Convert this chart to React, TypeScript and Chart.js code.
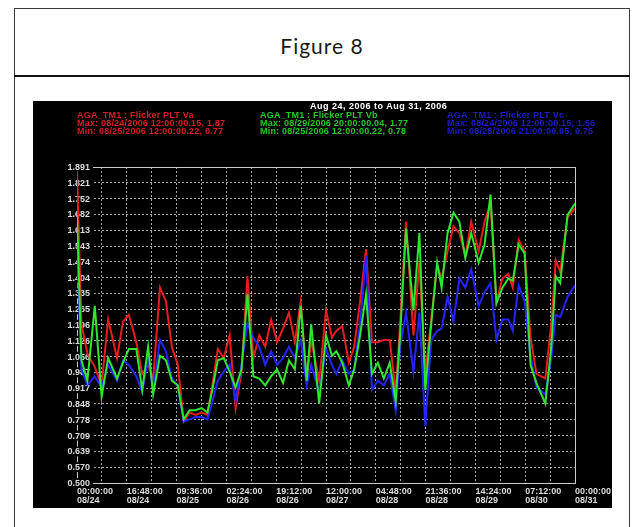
import React, { useEffect, useRef } from 'react';
import { Chart, registerables } from 'chart.js';

Chart.register(...registerables);

// hours since 08/24 00:00
const hours = [0, 1.5, 3.5, 6, 8.3, 10.5, 13.5, 15.5, 17.5, 20, 22, 24, 25.7, 28, 30, 32, 34, 36, 38, 40, 42, 44, 45.5, 47.5, 49.5, 51.5, 53.5, 55.5, 57.5, 59.5, 61.5, 63.5, 65.5, 67.5, 69.5, 71.5, 73.5, 75.5, 77.5, 79, 81.7, 84, 86, 87.5, 89.5, 91.7, 93.5, 95.5, 97.5, 99.5, 101.5, 103.5, 105.5, 107.5, 109, 111, 113.5, 115.5, 117.5, 119.5, 121.5, 123, 125, 127, 129, 131, 133, 135.5, 137.5, 139.5, 141.5, 143.5, 145.5, 147, 149, 151, 153, 155, 158, 160, 161.5, 163, 165.5, 168];

const pltVa = [1.87, 1.20, 1.07, 1.01, 0.93, 1.22, 1.05, 1.21, 1.24, 1.12, 0.98, 1.02, 0.96, 1.36, 1.30, 1.10, 1.02, 0.77, 0.81, 0.80, 0.81, 0.80, 0.92, 1.09, 1.05, 1.15, 0.83, 0.99, 1.41, 1.05, 1.15, 1.10, 1.22, 1.12, 1.18, 1.25, 1.12, 1.30, 0.95, 1.13, 0.95, 1.26, 1.14, 1.17, 1.19, 1.03, 1.10, 1.30, 1.53, 1.12, 1.12, 1.13, 1.13, 0.90, 1.20, 1.65, 1.15, 1.47, 0.98, 1.22, 1.46, 1.40, 1.52, 1.63, 1.60, 1.50, 1.65, 1.52, 1.65, 1.73, 1.30, 1.40, 1.42, 1.36, 1.57, 1.52, 1.14, 0.98, 0.96, 1.20, 1.48, 1.43, 1.67, 1.71];

const pltVb = [1.68, 1.04, 0.95, 1.28, 0.88, 1.05, 0.96, 1.03, 1.09, 1.09, 0.91, 1.10, 0.89, 1.06, 1.04, 0.95, 0.93, 0.78, 0.82, 0.82, 0.83, 0.81, 0.90, 1.04, 1.05, 0.99, 0.92, 1.00, 1.33, 0.97, 0.96, 0.93, 0.97, 1.00, 0.94, 1.04, 1.00, 1.28, 0.95, 1.20, 0.85, 1.15, 1.06, 1.08, 1.03, 0.93, 1.00, 1.15, 1.33, 0.98, 1.03, 0.96, 1.03, 0.86, 1.15, 1.62, 1.26, 1.60, 0.91, 1.20, 1.47, 1.36, 1.60, 1.69, 1.65, 1.49, 1.60, 1.47, 1.55, 1.77, 1.29, 1.36, 1.40, 1.39, 1.55, 1.51, 1.02, 0.94, 0.85, 1.10, 1.41, 1.38, 1.68, 1.73];

const pltVc = [1.56, 1.00, 0.93, 0.97, 0.92, 1.02, 0.95, 1.04, 1.02, 0.97, 0.90, 1.05, 0.91, 1.13, 1.08, 0.96, 0.93, 0.77, 0.78, 0.79, 0.79, 0.78, 0.85, 0.95, 0.99, 1.02, 0.86, 1.02, 1.20, 1.14, 1.10, 1.02, 1.08, 1.02, 1.05, 1.10, 1.05, 1.13, 0.93, 1.02, 0.90, 1.09, 1.02, 0.98, 1.04, 0.98, 1.00, 1.20, 1.50, 0.91, 0.95, 0.93, 0.98, 0.82, 1.10, 1.25, 0.99, 1.25, 0.75, 1.13, 1.17, 1.18, 1.32, 1.21, 1.40, 1.36, 1.44, 1.28, 1.34, 1.38, 1.13, 1.22, 1.22, 1.17, 1.37, 1.30, 1.06, 0.92, 0.89, 1.05, 1.24, 1.23, 1.32, 1.37];

const yTickValues = [0.500, 0.570, 0.639, 0.709, 0.778, 0.848, 0.917, 0.987, 1.056, 1.126, 1.196, 1.265, 1.335, 1.404, 1.474, 1.543, 1.613, 1.682, 1.752, 1.821, 1.891];

const xTickLabels = [
  ['00:00:00', '08/24'],
  ['16:48:00', '08/24'],
  ['09:36:00', '08/25'],
  ['02:24:00', '08/26'],
  ['19:12:00', '08/26'],
  ['12:00:00', '08/27'],
  ['04:48:00', '08/28'],
  ['21:36:00', '08/28'],
  ['14:24:00', '08/29'],
  ['07:12:00', '08/30'],
  ['00:00:00', '08/31'],
];

const xMaxHours = 168;
const xGridPerLabel = 2;

const titleText = 'Aug 24, 2006 to Aug 31, 2006';
const legendVa = ['AGA_TM1 : Flicker PLT Va', 'Max: 08/24/2006 12:00:00.15, 1.87', 'Min: 08/25/2006 12:00:00.22, 0.77'];
const legendVb = ['AGA_TM1 : Flicker PLT Vb', 'Max: 08/29/2006 20:00:00.04, 1.77', 'Min: 08/25/2006 12:00:00.22, 0.78'];
const legendVc = ['AGA_TM1 : Flicker PLT Vc', 'Max: 08/24/2006 12:00:00.15, 1.56', 'Min: 08/28/2006 21:00:00.05, 0.75'];

const RED = '#e81c1c';
const GREEN = '#2ee62e';
const BLUE = '#2424ff';
const FONT = '"Liberation Sans", Arial, sans-serif';
const GRID = 'rgba(205,205,205,0.8)';
const AXIS = '#c8c8c8';
const TICK_COLOR = '#dcdcdc';

const framePlugin = {
  id: 'frame',
  beforeDraw(chart: any) {
    const { ctx, chartArea: a } = chart;
    const t = Math.round(a.top) + 0.5;
    const r = Math.round(a.right) + 0.5;
    ctx.save();
    ctx.strokeStyle = AXIS;
    ctx.lineWidth = 1;
    ctx.beginPath();
    ctx.moveTo(a.left, t);
    ctx.lineTo(r, t);
    ctx.lineTo(r, a.bottom);
    ctx.stroke();
    ctx.restore();
  },
};

// y tick labels overlap the axis line (drawn on a black backdrop), as in the source plot
const yLabelPlugin = {
  id: 'yLabels',
  beforeDatasetsDraw(chart: any) {
    const { ctx, chartArea: a } = chart;
    const s = chart.scales.y;
    const xr = a.left + 13;
    ctx.save();
    ctx.font = `bold 9px ${FONT}`;
    ctx.textAlign = 'right';
    ctx.textBaseline = 'middle';
    s.ticks.forEach((t: any) => {
      const y = s.getPixelForValue(t.value);
      const label = t.label != null && t.label !== '' ? String(t.label) : Number(t.value).toFixed(3);
      const w = ctx.measureText(label).width;
      ctx.fillStyle = '#000';
      ctx.fillRect(xr - w - 2, y - 5, w + 5, 10);
      ctx.fillStyle = TICK_COLOR;
      ctx.fillText(label, xr, y + 0.5);
    });
    ctx.restore();
  },
};

export default function App() {
  const ref = useRef<HTMLCanvasElement | null>(null);

  useEffect(() => {
    if (!ref.current) return;
    const mk = (vals: number[]) => hours.map((h, i) => ({ x: h, y: vals[i] }));
    const chart = new Chart(ref.current, {
      type: 'line',
      data: {
        datasets: [
          { label: 'PLT Va', data: mk(pltVa), borderColor: RED, order: 2 },
          { label: 'PLT Vb', data: mk(pltVb), borderColor: GREEN, order: 0 },
          { label: 'PLT Vc', data: mk(pltVc), borderColor: BLUE, order: 1 },
        ],
      },
      plugins: [framePlugin, yLabelPlugin],
      options: {
        animation: false,
        responsive: false,
        maintainAspectRatio: false,
        events: [],
        layout: { padding: { left: 44, top: 66, right: 37, bottom: 0 } },
        elements: {
          point: { radius: 0 },
          line: { tension: 0, borderWidth: 2, fill: false },
        },
        plugins: {
          legend: { display: false },
          title: { display: false },
          tooltip: { enabled: false },
        },
        scales: {
          x: {
            type: 'linear',
            position: 'bottom',
            min: 0,
            max: xMaxHours,
            afterBuildTicks: (s: any) => {
              const n = (xTickLabels.length - 1) * xGridPerLabel;
              s.ticks = Array.from({ length: n + 1 }, (_, i) => ({ value: (xMaxHours * i) / n }));
            },
            afterFit: (s: any) => {
              s.paddingLeft = 0;
              s.paddingRight = 0;
              s.height = 25;
            },
            grid: { color: GRID, lineWidth: 1, drawTicks: false },
            border: { display: true, color: AXIS, width: 1, dash: [2, 2] },
            ticks: {
              autoSkip: false,
              maxRotation: 0,
              minRotation: 0,
              align: 'start',
              padding: 4,
              color: TICK_COLOR,
              font: { family: FONT, size: 9, weight: 'bold', lineHeight: 1 },
              callback: (_v: any, i: number) => (i % xGridPerLabel === 0 ? xTickLabels[i / xGridPerLabel] : ''),
            },
          },
          y: {
            type: 'linear',
            position: 'left',
            min: yTickValues[0],
            max: yTickValues[yTickValues.length - 1],
            afterBuildTicks: (s: any) => {
              s.ticks = yTickValues.map((v) => ({ value: v }));
            },
            afterFit: (s: any) => {
              s.paddingTop = 0;
              s.paddingBottom = 0;
              s.width = 0;
            },
            grid: { color: GRID, lineWidth: 1, drawTicks: false },
            border: { display: true, color: AXIS, width: 1, dash: [2, 2] },
            ticks: {
              display: false,
              callback: (v: any) => Number(v).toFixed(3),
            },
          },
        },
      } as any,
    });
    return () => chart.destroy();
  }, []);

  const legendStyle = (left: number, color: string): React.CSSProperties => ({
    position: 'absolute',
    left,
    top: 10,
    color,
    font: `bold 9px ${FONT}`,
    lineHeight: '8px',
    letterSpacing: '0.2px',
    whiteSpace: 'nowrap',
  });

  return (
    <div style={{ position: 'fixed', left: 0, top: 0, width: 632, height: 527, overflow: 'hidden', background: '#fff' }}>
      <div style={{ position: 'absolute', left: 14, top: 8, width: 614, height: 560, border: '1px solid #3a3a3a' }} />
      <div style={{ position: 'absolute', left: 14, top: 75, width: 616, height: 2, background: '#111' }} />
      <div
        style={{
          position: 'absolute',
          left: 14,
          top: 30,
          width: 616,
          textAlign: 'center',
          font: `21px Lato, "Open Sans", sans-serif`,
          letterSpacing: '1px',
          lineHeight: '32px',
          color: '#1a1a1a',
        }}
      >
        Figure 8
      </div>
      <div style={{ position: 'absolute', left: 33, top: 101, width: 579, height: 407, background: '#000', overflow: 'hidden' }}>
        <canvas ref={ref} width={579} height={407} style={{ display: 'block', width: 579, height: 407 }} />
        <div
          style={{
            position: 'absolute',
            left: 277,
            top: 1,
            color: '#fff',
            font: `bold 9px ${FONT}`,
            lineHeight: '9px',
            letterSpacing: '0.5px',
            whiteSpace: 'nowrap',
          }}
        >
          {titleText}
        </div>
        <div style={legendStyle(44, '#d81e1e')}>
          {legendVa.map((t) => (
            <div key={t}>{t}</div>
          ))}
        </div>
        <div style={legendStyle(227, '#22c822')}>
          {legendVb.map((t) => (
            <div key={t}>{t}</div>
          ))}
        </div>
        <div style={legendStyle(414, '#1c1cc8')}>
          {legendVc.map((t) => (
            <div key={t}>{t}</div>
          ))}
        </div>
      </div>
    </div>
  );
}
